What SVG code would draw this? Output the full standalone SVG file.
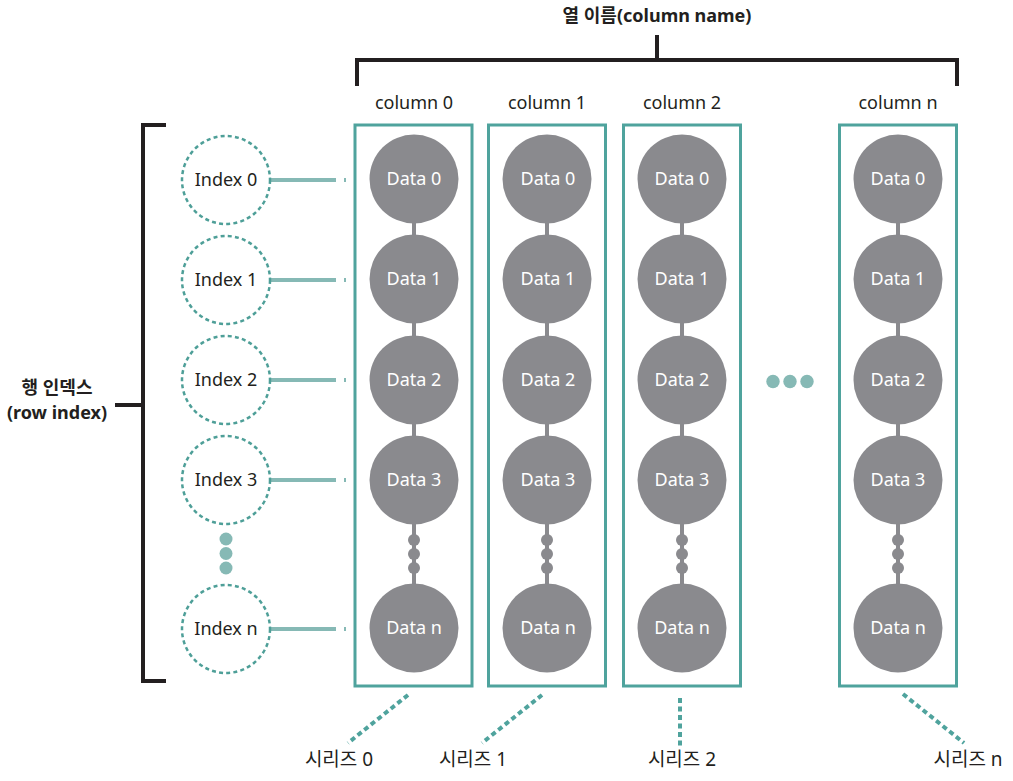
<svg xmlns="http://www.w3.org/2000/svg" width="1013" height="781" viewBox="0 0 1013 781">
<style>
.t{font-family:"Noto Sans","Noto Sans CJK KR",sans-serif;font-size:18px;fill:#231f20;text-anchor:middle}
.k{font-size:19px}
.b{font-weight:bold}
.w{fill:#ffffff}
.box{fill:none;stroke:#4fa39d;stroke-width:3}
.data{fill:#8a8a8e}
.idx{fill:#fff;stroke:#4e9f98;stroke-width:2.5;stroke-dasharray:4 3.2}
.il{stroke:#86b9b5;stroke-width:4}
.br{stroke:#231f20;stroke-width:4;fill:none}
.sl{stroke:#4fa39d;stroke-width:4;stroke-dasharray:5 3.5;fill:none}
.gl{stroke:#8a8a8e;stroke-width:4}
</style>
<rect width="1013" height="781" fill="#fff"/>
<g id="col-bracket">
<path class="br" d="M357 86V60H957V86M657 60V35"/>
<text class="t b" x="657" y="22">열 이름(column name)</text>
</g>
<g id="row-bracket">
<path class="br" d="M166 125H143V681H166M143 405H115"/>
<text class="t b" x="57" y="394">행 인덱스</text>
<text class="t b" x="57" y="419">(row index)</text>
</g>
<g id="connectors">
<g class="il">
<line x1="270" y1="180" x2="336" y2="180"/><line x1="344" y1="180" x2="346" y2="180"/>
<line x1="270" y1="280" x2="336" y2="280"/><line x1="344" y1="280" x2="346" y2="280"/>
<line x1="270" y1="380" x2="336" y2="380"/><line x1="344" y1="380" x2="346" y2="380"/>
<line x1="270" y1="480" x2="336" y2="480"/><line x1="344" y1="480" x2="346" y2="480"/>
<line x1="270" y1="629" x2="336" y2="629"/><line x1="344" y1="629" x2="346" y2="629"/>
</g>
<path class="sl" d="M408 695L348 743"/>
<path class="sl" d="M542 695L482 743"/>
<path class="sl" d="M680 698V748"/>
<path class="sl" d="M903 694L964 743"/>
</g>
<g id="index-nodes">
<g id="index0"><circle class="idx" cx="226" cy="180" r="44"/><text class="t" x="226" y="186">Index 0</text></g>
<g id="index1"><circle class="idx" cx="226" cy="280" r="44"/><text class="t" x="226" y="286">Index 1</text></g>
<g id="index2"><circle class="idx" cx="226" cy="380" r="44"/><text class="t" x="226" y="386">Index 2</text></g>
<g id="index3"><circle class="idx" cx="226" cy="480" r="44"/><text class="t" x="226" y="486">Index 3</text></g>
<g id="index-dots" fill="#86b9b5"><circle cx="226" cy="539" r="6.5"/><circle cx="226" cy="553.5" r="6.5"/><circle cx="226" cy="568" r="6.5"/></g>
<g id="indexn"><circle class="idx" cx="226" cy="629" r="44"/><text class="t" x="226" y="635">Index n</text></g>
</g>
<g id="column0">
<rect class="box" x="355" y="125" width="117" height="561"/>
<text class="t" x="414" y="109">column 0</text>
<line class="gl" x1="414" y1="180" x2="414" y2="629"/>
<g class="data"><circle cx="414" cy="179" r="44.5"/><circle cx="414" cy="279" r="44.5"/><circle cx="414" cy="380" r="44.5"/><circle cx="414" cy="480" r="44.5"/><circle cx="414" cy="540" r="6"/><circle cx="414" cy="554" r="6"/><circle cx="414" cy="568" r="6"/><circle cx="414" cy="628" r="44.5"/></g>
<g class="t w"><text x="414" y="185">Data 0</text><text x="414" y="285">Data 1</text><text x="414" y="386">Data 2</text><text x="414" y="486">Data 3</text><text x="414" y="634">Data n</text></g>
<text class="t k" x="339" y="766">시리즈 0</text>
</g>
<g id="column1">
<rect class="box" x="488.5" y="125" width="117" height="561"/>
<text class="t" x="547" y="109">column 1</text>
<line class="gl" x1="547" y1="180" x2="547" y2="629"/>
<g class="data"><circle cx="547" cy="179" r="44.5"/><circle cx="547" cy="279" r="44.5"/><circle cx="547" cy="380" r="44.5"/><circle cx="547" cy="480" r="44.5"/><circle cx="547" cy="540" r="6"/><circle cx="547" cy="554" r="6"/><circle cx="547" cy="568" r="6"/><circle cx="547" cy="628" r="44.5"/></g>
<g class="t w"><text x="548" y="185">Data 0</text><text x="548" y="285">Data 1</text><text x="548" y="386">Data 2</text><text x="548" y="486">Data 3</text><text x="548" y="634">Data n</text></g>
<text class="t k" x="473" y="766">시리즈 1</text>
</g>
<g id="column2">
<rect class="box" x="623.5" y="125" width="117" height="561"/>
<text class="t" x="682" y="109">column 2</text>
<line class="gl" x1="682" y1="180" x2="682" y2="629"/>
<g class="data"><circle cx="682" cy="179" r="44.5"/><circle cx="682" cy="279" r="44.5"/><circle cx="682" cy="380" r="44.5"/><circle cx="682" cy="480" r="44.5"/><circle cx="682" cy="540" r="6"/><circle cx="682" cy="554" r="6"/><circle cx="682" cy="568" r="6"/><circle cx="682" cy="628" r="44.5"/></g>
<g class="t w"><text x="682" y="185">Data 0</text><text x="682" y="285">Data 1</text><text x="682" y="386">Data 2</text><text x="682" y="486">Data 3</text><text x="682" y="634">Data n</text></g>
<text class="t k" x="682" y="766">시리즈 2</text>
</g>
<g id="column-dots" fill="#86b9b5"><circle cx="773" cy="381.5" r="6.7"/><circle cx="790" cy="381.5" r="6.7"/><circle cx="807" cy="381.5" r="6.7"/></g>
<g id="columnn">
<rect class="box" x="839.5" y="125" width="117" height="561"/>
<text class="t" x="898" y="109">column n</text>
<line class="gl" x1="898" y1="180" x2="898" y2="629"/>
<g class="data"><circle cx="898" cy="179" r="44.5"/><circle cx="898" cy="279" r="44.5"/><circle cx="898" cy="380" r="44.5"/><circle cx="898" cy="480" r="44.5"/><circle cx="898" cy="540" r="6"/><circle cx="898" cy="554" r="6"/><circle cx="898" cy="568" r="6"/><circle cx="898" cy="628" r="44.5"/></g>
<g class="t w"><text x="898" y="185">Data 0</text><text x="898" y="285">Data 1</text><text x="898" y="386">Data 2</text><text x="898" y="486">Data 3</text><text x="898" y="634">Data n</text></g>
<text class="t k" x="968" y="766">시리즈 n</text>
</g>
</svg>
